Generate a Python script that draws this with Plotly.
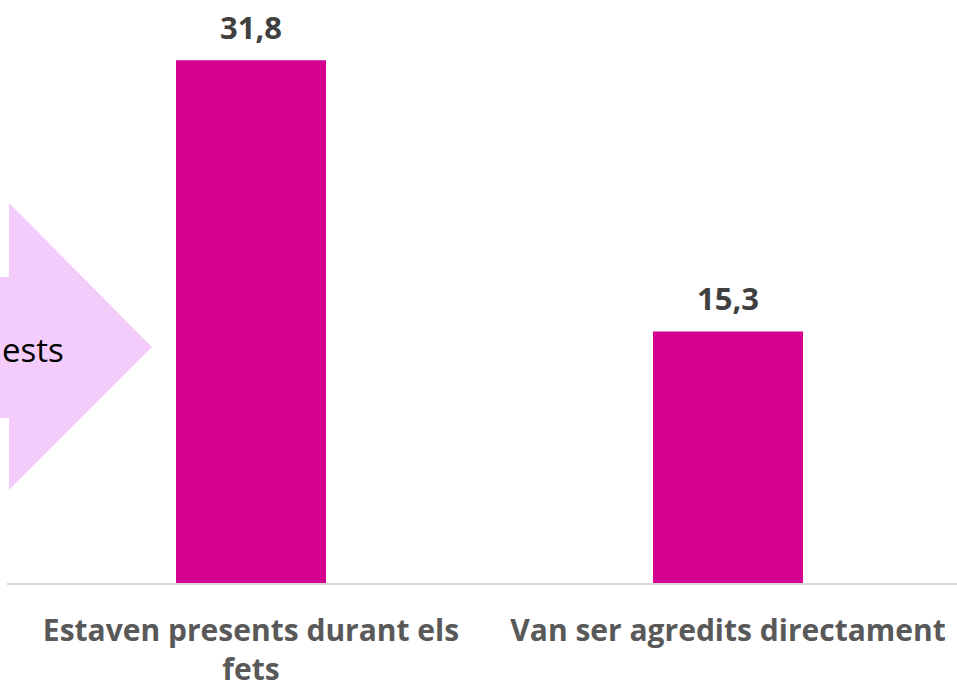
import plotly.graph_objects as go

# data
categories = ["Estaven presents durant els<br>fets", "Van ser agredits directament"]
values = [31.8, 15.3]
value_labels = ["31,8", "15,3"]
arrow_text = "ests"

BAR = "#D5008F"
ARROW = "#F3CCFB"

# plot area in pixels (figure 957x692)
L, T, W, H = 7, 0, 950, 583


def px(x, y):
    """pixel -> paper coords"""
    return (x - L) / W, 1 - (y - T) / H


fig = go.Figure()
fig.add_trace(go.Bar(
    x=categories, y=values,
    marker=dict(color=BAR, line=dict(width=0)),
    hoverinfo="skip",
))

for c, v, t in zip(categories, values, value_labels):
    fig.add_annotation(
        x=c, y=v, text="<b>%s</b>" % t, showarrow=False,
        yanchor="middle", yshift=33,
        font=dict(family="Open Sans", size=31, color="#404040"),
    )

# pink arrow on the left, partially off-canvas
pts = [(-30, 277), (9, 277), (9, 203), (152, 347), (9, 490), (9, 418), (-30, 418)]
path = "M " + " L ".join("%f,%f" % px(x, y) for x, y in pts) + " Z"
fig.add_shape(type="path", path=path, xref="paper", yref="paper",
              fillcolor=ARROW, line=dict(width=0), layer="below")
tx, ty = px(66, 349)
fig.add_annotation(x=tx, y=ty, xref="paper", yref="paper", text=arrow_text,
                   showarrow=False, xanchor="right", yanchor="middle",
                   font=dict(family="Open Sans", size=33, color="#000000"))

fig.update_layout(
    width=957, height=692,
    margin=dict(l=L, r=957 - L - W, t=T, b=692 - T - H, autoexpand=False),
    paper_bgcolor="white", plot_bgcolor="white",
    bargap=1 - 150 / 477,
    showlegend=False,
)
fig.update_xaxes(
    range=[-(251 - L) / 477, (957 - 251) / 477],
    showline=True, linecolor="#D9D9D9", linewidth=2,
    showgrid=False, ticks="", ticklabelstandoff=20,
    tickvals=categories, ticktext=["<b>%s</b>" % c for c in categories],
    tickfont=dict(family="Open Sans", size=30, color="#595959"),
)
fig.update_yaxes(range=[0, H / 16.44], visible=False)

fig.write_html("out.html", config={"displayModeBar": False},
               post_script="document.body.style.margin='0';")
